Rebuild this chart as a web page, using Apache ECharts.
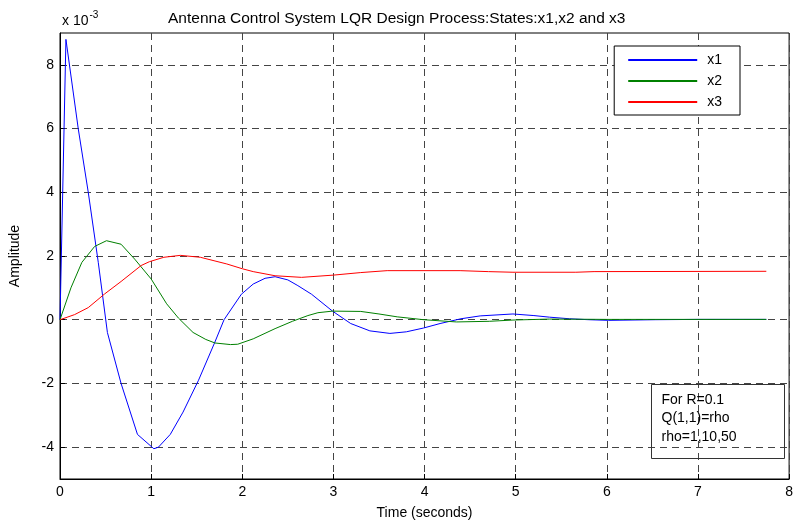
<!DOCTYPE html>
<html>
<head>
<meta charset="utf-8">
<script src="https://cdn.jsdelivr.net/npm/echarts@6/dist/echarts.min.js"></script>
<style>
  html, body { margin: 0; padding: 0; background: #fff; }
  #chart { width: 796px; height: 525px; }
</style>
</head>
<body>
<div id="chart"></div>
<script>
// values are in units of 1e-3 (axis shows "x 10^-3")
const x1Time = [0, 0.065, 0.2, 0.31, 0.42, 0.52, 0.67, 0.85, 1.03, 1.08, 1.21, 1.35, 1.52, 1.7, 1.8, 1.99, 2.12, 2.25, 2.36, 2.5, 2.61, 2.76, 2.99, 3.19, 3.4, 3.62, 3.8, 3.99, 4.17, 4.4, 4.61, 4.97, 5.2, 5.37, 5.59, 5.8, 6.02, 6.53, 7.0, 7.75]
const x1Vals = [0, 8.8, 6.0, 4.0, 1.8, -0.4, -2.0, -3.6, -4.05, -4.0, -3.6, -2.9, -1.9, -0.7, 0, 0.8, 1.12, 1.3, 1.35, 1.25, 1.07, 0.8, 0.27, -0.12, -0.35, -0.43, -0.38, -0.26, -0.12, 0.03, 0.12, 0.18, 0.13, 0.08, 0.03, 0, -0.02, 0, 0.01, 0.01]

const x2Time = [0, 0.12, 0.24, 0.38, 0.51, 0.67, 0.82, 1.0, 1.17, 1.3, 1.46, 1.6, 1.7, 1.87, 1.95, 2.12, 2.36, 2.55, 2.72, 2.83, 2.99, 3.3, 3.5, 3.7, 3.99, 4.35, 4.71, 4.97, 5.37, 6.0, 7.75]
const x2Vals = [0, 1.0, 1.8, 2.3, 2.48, 2.37, 1.9, 1.28, 0.5, 0.05, -0.4, -0.62, -0.73, -0.78, -0.77, -0.6, -0.28, -0.05, 0.13, 0.22, 0.27, 0.26, 0.18, 0.09, 0, -0.07, -0.05, -0.01, 0.02, 0.01, 0.01]

const x3Time = [0, 0.16, 0.31, 0.49, 0.67, 0.89, 0.98, 1.14, 1.32, 1.54, 1.83, 2.0, 2.12, 2.36, 2.65, 3.0, 3.3, 3.59, 4.39, 4.7, 4.97, 5.66, 5.86, 7.75]
const x3Vals = [0, 0.16, 0.38, 0.81, 1.2, 1.7, 1.82, 1.96, 2.02, 1.96, 1.75, 1.6, 1.51, 1.38, 1.33, 1.4, 1.48, 1.54, 1.54, 1.51, 1.49, 1.49, 1.51, 1.52]

const yTicks = [-4, -2, 0, 2, 4, 6, 8]
const noteLines = ['For R=0.1', 'Q(1,1)=rho', 'rho=1,10,50']

const font = 'Arial, "Liberation Sans", Helvetica, sans-serif'
const pairs = (t, v) => t.map((x, i) => [x, v[i]])

const chart = echarts.init(document.getElementById('chart'))

const mkSeries = (name, t, v, color) => ({
  name,
  type: 'line',
  data: pairs(t, v),
  showSymbol: false,
  symbol: 'none',
  lineStyle: { color, width: 1 },
  itemStyle: { color },
  z: 3
})

chart.setOption({
  animation: false,
  backgroundColor: '#fff',
  textStyle: { fontFamily: font },
  title: {
    text: 'Antenna Control System LQR Design Process:States:x1,x2 and x3',
    left: 163,
    top: 6,
    textStyle: { fontSize: 15.5, fontWeight: 'normal', color: '#000', fontFamily: font }
  },
  grid: {
    left: 60, right: 3, top: 33, bottom: 45,
    show: true, borderColor: '#000', borderWidth: 1
  },
  legend: {
    right: 56,
    top: 46,
    orient: 'vertical',
    backgroundColor: '#fff',
    borderColor: '#000',
    borderWidth: 1,
    padding: [6, 18, 5, 14],
    itemGap: 5,
    itemWidth: 69,
    itemHeight: 2,
    icon: 'rect',
    textStyle: { fontSize: 14, color: '#000', lineHeight: 16, padding: [0, 0, 0, 5], fontFamily: font },
    data: ['x1', 'x2', 'x3']
  },
  xAxis: {
    type: 'value',
    min: 0, max: 8, interval: 1,
    name: 'Time (seconds)',
    nameLocation: 'middle',
    nameGap: 27,
    nameTextStyle: { fontSize: 14, color: '#000' },
    axisLine: { onZero: false, lineStyle: { color: '#000', width: 1 } },
    axisTick: { inside: true, length: 5, lineStyle: { color: '#000' } },
    axisLabel: { fontSize: 14, color: '#000', margin: 6 },
    splitLine: { show: true, lineStyle: { color: '#444', type: [7, 5], width: 1 } }
  },
  yAxis: {
    type: 'value',
    min: -5, max: 9,
    name: 'Amplitude',
    nameLocation: 'middle',
    nameGap: 38,
    nameTextStyle: { fontSize: 14, color: '#000' },
    axisLine: { show: true, onZero: false, lineStyle: { color: '#000', width: 1 } },
    axisTick: { show: true, inside: true, length: 5, lineStyle: { color: '#000' }, customValues: yTicks },
    axisLabel: { fontSize: 14, color: '#000', margin: 6, customValues: yTicks },
    splitLine: { show: true, lineStyle: { color: '#444', type: [7, 5], width: 1 } }
  },
  graphic: [
    {
      type: 'text',
      left: 62,
      top: 10,
      z: 100,
      style: {
        text: '{b|x 10}{s|-3}',
        rich: {
          b: { fontSize: 14, fontFamily: font, fill: '#000', verticalAlign: 'bottom' },
          s: { fontSize: 10, fontFamily: font, fill: '#000', verticalAlign: 'top', padding: [0, 0, 8, 1] }
        }
      }
    },
    {
      type: 'group',
      left: 649,
      top: 382,
      z: 100,
      children: [
        // note box is see-through in the original, grid shows inside it
        {
          type: 'rect',
          z: 100,
          shape: { x: 0, y: 0, width: 133, height: 74 },
          style: { fill: 'none', stroke: '#333', lineWidth: 1 }
        },
        {
          type: 'text',
          z: 101,
          x: 10,
          y: 6,
          style: {
            text: noteLines.join('\n'),
            fontSize: 14,
            lineHeight: 18.5,
            fontFamily: font,
            fill: '#000'
          }
        }
      ]
    }
  ],
  series: [
    mkSeries('x1', x1Time, x1Vals, '#0000ff'),
    mkSeries('x2', x2Time, x2Vals, '#008000'),
    mkSeries('x3', x3Time, x3Vals, '#ff0000')
  ]
})
</script>
</body>
</html>
